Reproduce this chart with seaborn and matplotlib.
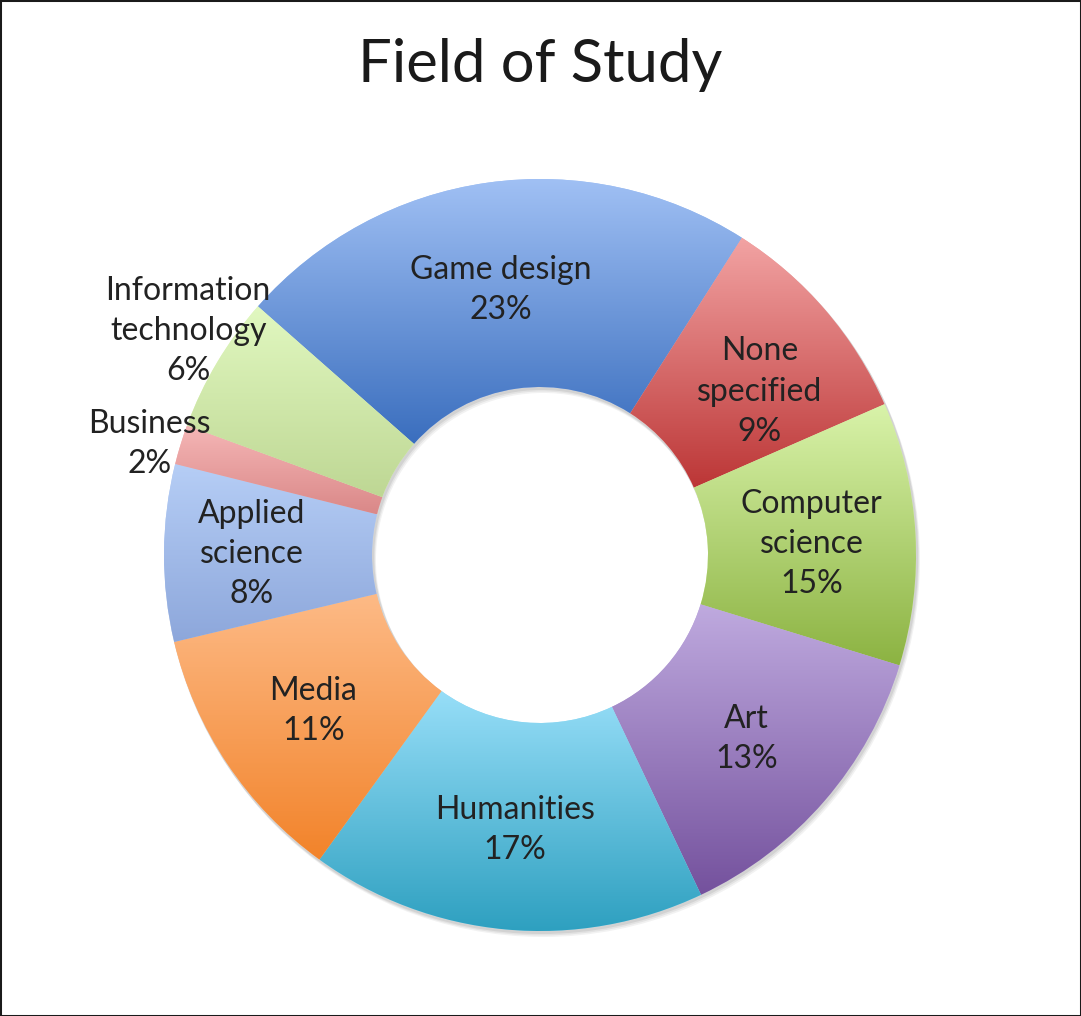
import numpy as np
import matplotlib
matplotlib.use("Agg")
import matplotlib.pyplot as plt
import seaborn as sns
from matplotlib.patches import Rectangle

# ---------------- data ----------------
categories = ["Game design", "None\nspecified", "Computer\nscience", "Art",
              "Humanities", "Media", "Applied\nscience", "Business",
              "Information\ntechnology"]
shares = [22.5, 9.4, 11.3, 13.2, 17.0, 11.3, 7.6, 1.7, 5.9]
pct_labels = ["23%", "9%", "15%", "13%", "17%", "11%", "8%", "2%", "6%"]
top_colors = ["#A0C0F4", "#F2A3A3", "#D9F3AA", "#BFAADF", "#97DEF8",
              "#FDBA86", "#B6CEF6", "#F5B6B6", "#E1F8C0"]
bottom_colors = ["#3A6EBE", "#BC3636", "#8CB342", "#74519D", "#2EA0C0",
                 "#F2832A", "#8DA7DB", "#DA8888", "#BED794"]

# ---------------- layout ----------------
W, H = 1081, 1016
cx, cy = 540, H - 555
R_out, R_in = 376, 168
start = 138.6
label_r = [270, 275, 272, 275, 274, 274, 288, 407, 418]
label_nudge = [0.3, -3.6, -0.5, -0.5, 0.0, 0.4, -0.3, 0.9, -1.9]

sns.set_theme(style="white")
plt.rcParams['font.family'] = ['Lato', 'DejaVu Sans']

fig = plt.figure(figsize=(W / 100, H / 100), dpi=100)
ax = fig.add_axes([0, 0, 1, 1])

# soft shadow
for off, a in [(5, 0.05), (3.5, 0.06), (2, 0.07)]:
    ax.pie([1], radius=R_out + 1, center=(cx + off * 0.6, cy - off),
           colors=["#000000"], startangle=0,
           wedgeprops=dict(width=R_out - R_in + 2, alpha=a, linewidth=0))

wedges, _ = ax.pie(shares, radius=R_out, center=(cx, cy), startangle=start,
                   counterclock=False, colors=top_colors,
                   wedgeprops=dict(width=R_out - R_in, linewidth=0))

grad = np.linspace(0, 1, 256).reshape(-1, 1)
for w, tc, bc in zip(wedges, top_colors, bottom_colors):
    bb = w.get_patch_transform().transform_path(w.get_path()).get_extents()
    cmap = sns.blend_palette([tc, bc], as_cmap=True)
    im = ax.imshow(grad, extent=[bb.x0, bb.x1, bb.y0, bb.y1], origin="upper",
                   cmap=cmap, aspect="auto", interpolation="bilinear",
                   zorder=w.get_zorder() + 0.1)
    im.set_clip_path(w)

# labels
total = sum(shares)
ang = start
for name, pct, s, r, nd in zip(categories, pct_labels, shares, label_r,
                               label_nudge):
    span = s / total * 360
    mid = np.deg2rad(ang - span / 2 + nd)
    ang -= span
    x = cx + r * np.cos(mid)
    y = cy + r * np.sin(mid)
    ax.text(x, y - 2, f"{name}\n{pct}", ha="center", va="center",
            fontsize=23, color="#222222", linespacing=1.42, zorder=10)

ax.text(540.5, H - 81.7, "Field of Study", ha="center", va="baseline",
        fontsize=43, color="#1a1a1a")

ax.set_xlim(0, W)
ax.set_ylim(0, H)
ax.set_aspect("auto")
ax.axis("off")

fig.patches.append(Rectangle((0, 0), 1, 1, transform=fig.transFigure,
                             fill=False, lw=2.2, ec="#1a1a1a"))
fig.savefig("out.png", dpi=100, facecolor="white")
